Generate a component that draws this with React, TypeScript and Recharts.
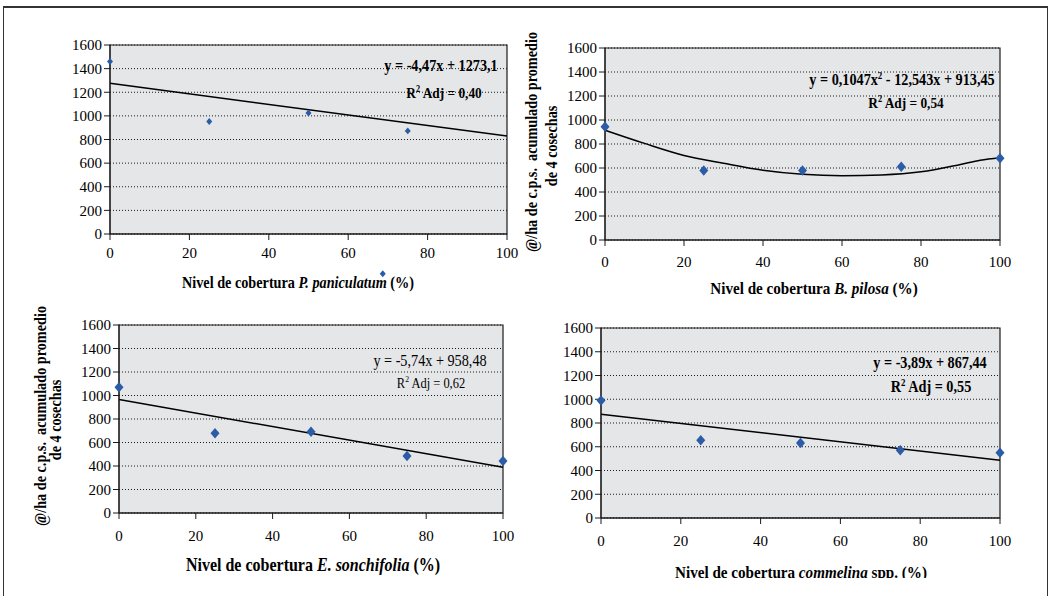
import React from 'react';
import {
  ComposedChart,
  Scatter,
  Line,
  XAxis,
  YAxis,
  CartesianGrid,
  ReferenceArea,
  ReferenceDot,
} from 'recharts';

const xTicks = [0, 20, 40, 60, 80, 100];
const yTicks = [0, 200, 400, 600, 800, 1000, 1200, 1400, 1600];

// P. paniculatum (one point sits below the axis in the original figure)
const paniculatumCover = [0, 25, 50, 75];
const paniculatumYield = [1460, 952, 1025, 873];
const paniculatumStray = { x: 68.7, y: -336 };
const paniculatumFitCover = [0, 100];
const paniculatumFitYield = [1276, 830];

// B. pilosa
const pilosaCover = [0, 25, 50, 75, 100];
const pilosaYield = [944, 579, 579, 610, 682];
const pilosaFitCover = [0, 10, 20, 30, 40, 50, 60, 70, 80, 90, 95, 100];
const pilosaFitYield = [915, 805, 705, 640, 582, 548, 536, 542, 568, 630, 665, 686];

// E. sonchifolia
const sonchifoliaCover = [0, 25, 50, 75, 100];
const sonchifoliaYield = [1070, 678, 692, 485, 443];
const sonchifoliaFitCover = [0, 100];
const sonchifoliaFitYield = [966, 389];

// commelina spp.
const commelinaCover = [0, 25, 50, 75, 100];
const commelinaYield = [989, 655, 632, 571, 549];
const commelinaFitCover = [0, 100];
const commelinaFitYield = [874, 487];

const FONT = "'Liberation Serif', 'Times New Roman', serif";
const INK = '#1b1b1b';
const BLUE = '#2b5ca8';
const PLOT_BG = '#e5e6e8';
const SQUEEZE = 0.89; // the scanned figure uses a narrow Times

type Pt = { x: number; y: number };
const zip = (xs: number[], ys: number[]): Pt[] => xs.map((x, i) => ({ x, y: ys[i] }));

const diamond = (size: number) => (props: any) => {
  const { cx, cy } = props;
  if (cx == null || cy == null) return <g />;
  const w = size / 2;
  const h = size * 0.58;
  return (
    <path
      d={`M${cx},${cy - h}L${cx + w},${cy}L${cx},${cy + h}L${cx - w},${cy}Z`}
      fill={BLUE}
    />
  );
};

interface PanelProps {
  left: number;
  top: number;
  width: number;
  height: number;
  margin: { top: number; right: number; bottom: number; left: number };
  yAxisWidth: number;
  tickMargin: number;
  points: Pt[];
  fit: Pt[];
  curved?: boolean;
  markerSize: number;
  stray?: Pt;
}

function Panel(p: PanelProps) {
  const tickStyle = { fill: '#000', fontSize: 15, fontFamily: FONT };
  return (
    <div
      style={{
        position: 'absolute',
        left: p.left,
        top: p.top,
        width: p.width,
        height: p.height,
        overflow: 'hidden',
      }}
    >
      <ComposedChart width={p.width} height={p.height} margin={p.margin}>
        <CartesianGrid vertical={false} fill={PLOT_BG} stroke={INK} strokeDasharray="1 2" />
        <XAxis
          type="number"
          dataKey="x"
          domain={[0, 100]}
          ticks={xTicks}
          interval={0}
          height={30}
          tickSize={6}
          tickMargin={p.tickMargin}
          stroke={INK}
          tick={tickStyle}
        />
        <YAxis
          type="number"
          dataKey="y"
          domain={[0, 1600]}
          ticks={yTicks}
          interval={0}
          width={p.yAxisWidth}
          tickSize={6}
          tickMargin={2}
          stroke={INK}
          tick={tickStyle}
        />
        <ReferenceArea x1={0} x2={100} y1={0} y2={1600} fill="none" fillOpacity={0} stroke={INK} strokeWidth={1.2} />
        <Line
          data={p.fit}
          dataKey="y"
          type={p.curved ? 'monotone' : 'linear'}
          stroke="#000"
          strokeWidth={1.5}
          dot={false}
          isAnimationActive={false}
        />
        <Scatter data={p.points} shape={diamond(p.markerSize)} isAnimationActive={false} />
        {p.stray && (
          <ReferenceDot x={p.stray.x} y={p.stray.y} ifOverflow="visible" shape={diamond(p.markerSize)} />
        )}
      </ComposedChart>
    </div>
  );
}

// narrow text: centred at x, baseline at y, optionally rotated
function T({
  x,
  y,
  size,
  bold = true,
  rotate = 0,
  children,
}: {
  x: number;
  y: number;
  size: number;
  bold?: boolean;
  rotate?: number;
  children: React.ReactNode;
}) {
  return (
    <text
      transform={`translate(${x},${y}) rotate(${rotate}) scale(${SQUEEZE},1)`}
      textAnchor="middle"
      fontSize={size}
      fontWeight={bold ? 'bold' : 'normal'}
      fill="#000"
      style={{ whiteSpace: 'pre' }}
    >
      {children}
    </text>
  );
}

function R2({ x, y, value, bold = true, size }: { x: number; y: number; value: string; bold?: boolean; size: number }) {
  return (
    <T x={x} y={y} size={size} bold={bold}>
      R<tspan fontSize={size * 0.62} dy={-size * 0.4}>2</tspan>
      <tspan dy={size * 0.4}>{` Adj = ${value}`}</tspan>
    </T>
  );
}

function YTitle({ x1, x2, cy }: { x1: number; x2: number; cy: number }) {
  return (
    <g>
      <T x={x1} y={cy} size={16} rotate={-90}>
        {'@/ha de c.p.s.  acumulado promedio'}
      </T>
      <T x={x2} y={cy + 4} size={16} rotate={-90}>
        de 4 cosechas
      </T>
    </g>
  );
}

export default function App() {
  return (
    <div
      style={{
        position: 'absolute',
        left: 0,
        top: 0,
        width: 1053,
        height: 596,
        background: '#fff',
        fontFamily: FONT,
        overflow: 'hidden',
      }}
    >
      <Panel
        left={0}
        top={0}
        width={520}
        height={300}
        margin={{ top: 45, right: 13, bottom: 36, left: 0 }}
        yAxisWidth={110}
        tickMargin={7}
        points={zip(paniculatumCover, paniculatumYield)}
        fit={zip(paniculatumFitCover, paniculatumFitYield)}
        markerSize={6}
        stray={paniculatumStray}
      />
      <Panel
        left={520}
        top={0}
        width={533}
        height={300}
        margin={{ top: 48, right: 53, bottom: 30, left: 0 }}
        yAxisWidth={85}
        tickMargin={10}
        points={zip(pilosaCover, pilosaYield)}
        fit={zip(pilosaFitCover, pilosaFitYield)}
        curved
        markerSize={9}
      />
      <Panel
        left={0}
        top={300}
        width={520}
        height={296}
        margin={{ top: 25, right: 17, bottom: 53, left: 0 }}
        yAxisWidth={119}
        tickMargin={11}
        points={zip(sonchifoliaCover, sonchifoliaYield)}
        fit={zip(sonchifoliaFitCover, sonchifoliaFitYield)}
        markerSize={9}
      />
      <Panel
        left={520}
        top={300}
        width={533}
        height={278}
        margin={{ top: 28, right: 53, bottom: 30, left: 0 }}
        yAxisWidth={81}
        tickMargin={11}
        points={zip(commelinaCover, commelinaYield)}
        fit={zip(commelinaFitCover, commelinaFitYield)}
        markerSize={9}
      />

      <svg
        width={1053}
        height={596}
        style={{ position: 'absolute', left: 0, top: 0, pointerEvents: 'none' }}
        fontFamily={FONT}
      >
        <defs>
          <clipPath id="cutBottom">
            <rect x={520} y={300} width={533} height={278} />
          </clipPath>
        </defs>

        {/* regression annotations */}
        <T x={441} y={71} size={16}>y = -4,47x + 1273,1</T>
        <R2 x={444} y={98} value="0,40" size={15} />

        <T x={902} y={85} size={16}>
          y = 0,1047x<tspan fontSize={10} dy={-6}>2</tspan>
          <tspan dy={6}> - 12,543x + 913,45</tspan>
        </T>
        <R2 x={906} y={108} value="0,54" size={15} />

        <T x={430} y={366} size={16} bold={false}>y = -5,74x + 958,48</T>
        <R2 x={431} y={388} value="0,62" bold={false} size={14} />

        <T x={930} y={368} size={16}>y = -3,89x + 867,44</T>
        <R2 x={931} y={392} value="0,55" size={16} />

        {/* axis titles */}
        <T x={298} y={288} size={16}>
          Nivel de cobertura <tspan fontStyle="italic">P. paniculatum</tspan> (%)
        </T>
        <T x={814} y={294} size={17}>
          Nivel de cobertura <tspan fontStyle="italic">B. pilosa</tspan> (%)
        </T>
        <T x={313} y={571} size={18}>
          Nivel de cobertura <tspan fontStyle="italic">E. sonchifolia</tspan> (%)
        </T>
        <g clipPath="url(#cutBottom)">
          <T x={801} y={578} size={17}>
            Nivel de cobertura <tspan fontStyle="italic">commelina</tspan> spp. (%)
          </T>
        </g>

        <YTitle x1={537} x2={557} cy={142} />
        <YTitle x1={46} x2={61} cy={416} />
      </svg>

      {/* outer frame, open at the bottom */}
      <div
        style={{
          position: 'absolute',
          left: 3,
          top: 6,
          width: 1043,
          height: 600,
          borderTop: '2px solid #333',
          borderLeft: '1.5px solid #333',
          borderRight: '1.5px solid #333',
        }}
      />
    </div>
  );
}
